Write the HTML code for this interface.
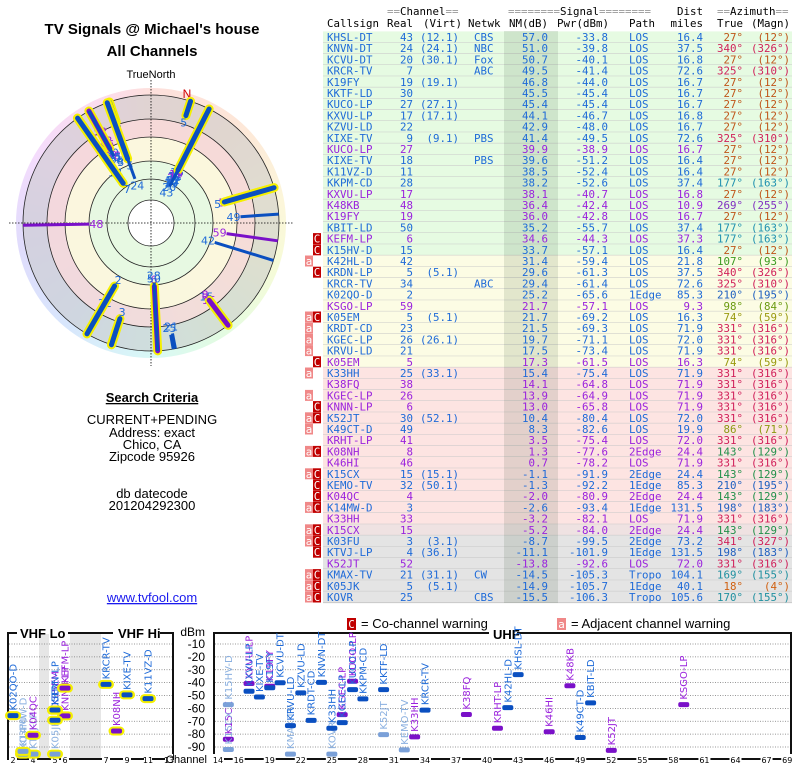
<!DOCTYPE html>
<html><head><meta charset="utf-8"><style>
html,body{margin:0;padding:0;background:#fff;width:800px;height:768px;overflow:hidden}
svg{display:block}
.mono{font-family:"DejaVu Sans Mono","Liberation Mono",monospace;font-size:10.8px}
.sans{font-family:"Liberation Sans",Arial,sans-serif}
.dv{font-family:"DejaVu Sans","Liberation Sans",sans-serif}
</style></head><body>
<div style="position:absolute;left:16px;top:88px;width:270px;height:270px;border-radius:50%;background:conic-gradient(#fde0dc 0deg,#fde6d8 40deg,#fcf6da 80deg,#f6fbd8 110deg,#e2fbe2 150deg,#d8f8f6 180deg,#d8e6fc 220deg,#e0dcfc 260deg,#f4dcfc 300deg,#fcdcec 340deg,#fde0dc 360deg)"></div>
<svg id="root" width="800" height="768" style="position:absolute;left:0;top:0">
<text x="152" y="34" text-anchor="middle" class="sans" font-size="15" font-weight="bold">TV Signals @ Michael's house</text>
<text x="152" y="56" text-anchor="middle" class="sans" font-size="15" font-weight="bold">All Channels</text>
<text x="151" y="78" text-anchor="middle" class="sans" font-size="11">TrueNorth</text>
<g id="polar"></g>
<text x="152" y="402" text-anchor="middle" class="sans" font-size="13" font-weight="bold" text-decoration="underline">Search Criteria</text>
<g class="sans" font-size="13" text-anchor="middle">
<text x="152" y="424">CURRENT+PENDING</text>
<text x="152" y="437">Address: exact</text>
<text x="152" y="449">Chico, CA</text>
<text x="152" y="461">Zipcode 95926</text>
<text x="152" y="498">db datecode</text>
<text x="152" y="510">201204292300</text>
</g>
<text x="152" y="602" text-anchor="middle" class="sans" font-size="13" fill="#1a1aee" text-decoration="underline">www.tvfool.com</text>
<g id="table"></g>
<g id="bottom"></g>
</svg>
<script>
const calls=["KHSL-DT","KNVN-DT","KCVU-DT","KRCR-TV","K19FY","KKTF-LD","KUCO-LP","KXVU-LP","KZVU-LD","KIXE-TV","KUCO-LP","KIXE-TV","K11VZ-D","KKPM-CD","KXVU-LP","K48KB","K19FY","KBIT-LD","KEFM-LP","K15HV-D","K42HL-D","KRDN-LP","KRCR-TV","K02QO-D","KSGO-LP","K05EM","KRDT-CD","KGEC-LP","KRVU-LD","K05EM","K33HH","K38FQ","KGEC-LP","KNNN-LP","K52JT","K49CT-D","KRHT-LP","K08NH","K46HI","K15CX","KEMO-TV","K04QC","K14MW-D","K33HH","K15CX","K03FU","KTVJ-LP","K52JT","KMAX-TV","K05JK","KOVR"];
const realCh=[43,24,20,7,19,30,27,17,22,9,27,18,11,28,17,48,19,50,6,15,42,5,34,2,59,5,23,26,21,5,25,38,26,6,30,49,41,8,46,15,32,4,3,33,15,3,4,52,21,5,25];
const virt=["(12.1)","(24.1)","(30.1)","","(19.1)","","(27.1)","(17.1)","","(9.1)","","","","","","","","","","","","(5.1)","","","","(5.1)","","(26.1)","","","(33.1)","","","","(52.1)","","","","","(15.1)","(50.1)","","","","","(3.1)","(36.1)","","(31.1)","(5.1)",""];
const netwk=["CBS","NBC","Fox","ABC","","","","","","PBS","","PBS","","","","","","","","","","","ABC","","","","","","","","","","","","","","","","","","","","","","","","","","CW","","CBS"];
const nm=[57.0,51.0,50.7,49.5,46.8,45.5,45.4,44.1,42.9,41.4,39.9,39.6,38.5,38.2,38.1,36.4,36.0,35.2,34.6,33.7,31.4,29.6,29.4,25.2,21.7,21.7,21.5,19.7,17.5,17.3,15.4,14.1,13.9,13.0,10.4,8.3,3.5,1.3,0.7,-1.1,-1.3,-2.0,-2.6,-3.2,-5.2,-8.7,-11.1,-13.8,-14.5,-14.9,-15.5];
const pwr=[-33.8,-39.8,-40.1,-41.4,-44.0,-45.4,-45.4,-46.7,-48.0,-49.5,-38.9,-51.2,-52.4,-52.6,-40.7,-42.4,-42.8,-55.7,-44.3,-57.1,-59.4,-61.3,-61.4,-65.6,-57.1,-69.2,-69.3,-71.1,-73.4,-61.5,-75.4,-64.8,-64.9,-65.8,-80.4,-82.6,-75.4,-77.6,-78.2,-91.9,-92.2,-80.9,-93.4,-82.1,-84.0,-99.5,-101.9,-92.6,-105.3,-105.7,-106.3];
const path=["LOS","LOS","LOS","LOS","LOS","LOS","LOS","LOS","LOS","LOS","LOS","LOS","LOS","LOS","LOS","LOS","LOS","LOS","LOS","LOS","LOS","LOS","LOS","1Edge","LOS","LOS","LOS","LOS","LOS","LOS","LOS","LOS","LOS","LOS","LOS","LOS","LOS","2Edge","LOS","2Edge","1Edge","2Edge","1Edge","LOS","2Edge","2Edge","1Edge","LOS","Tropo","1Edge","Tropo"];
const dist=["16.4","37.5","16.8","72.6","16.7","16.7","16.7","16.8","16.7","72.6","16.7","16.4","16.4","37.4","16.8","10.9","16.7","37.4","37.3","16.4","21.8","37.5","72.6","85.3","9.3","16.3","71.9","72.0","71.9","16.3","71.9","71.9","71.9","71.9","72.0","19.9","72.0","24.4","71.9","24.4","85.3","24.4","131.5","71.9","24.4","73.2","131.5","72.0","104.1","40.1","105.6"];
const azTrue=[27,340,27,325,27,27,27,27,27,325,27,27,27,177,27,269,27,177,177,27,107,340,325,210,98,74,331,331,331,74,331,331,331,331,331,86,331,143,331,143,210,143,198,331,143,341,198,331,169,18,170];
const azMagn=[12,326,12,310,12,12,12,12,12,310,12,12,12,163,12,255,12,163,163,12,93,326,310,195,84,59,316,316,316,59,316,316,316,316,316,71,316,129,316,129,195,129,183,316,129,327,183,316,155,4,155];
const kind=["b","b","b","b","b","b","b","b","b","b","p","b","b","b","p","p","p","b","p","b","b","b","b","b","p","b","b","b","b","p","b","p","p","p","b","b","p","p","p","b","b","p","b","p","p","b","b","p","b","b","b"];
const warn=["","","","","","","","","","","","","","","","","","","C","C","a","C","","","","aC","a","a","a","C","a","","a","C","aC","a","","aC","","aC","C","C","aC","","aC","aC","C","","aC","aC","aC"];
const dbmTicks=[-10,-20,-30,-40,-50,-60,-70,-80,-90];
const vhfTicks=[2,4,5,6,7,9,11,13];
const uhfTicks=[14,16,19,22,25,28,31,34,37,40,43,46,49,52,55,58,61,64,67,69];

const NS="http://www.w3.org/2000/svg";
function el(tag,attrs,parent,txt){const e=document.createElementNS(NS,tag);for(const k in attrs)e.setAttribute(k,attrs[k]);if(txt!==undefined)e.textContent=txt;parent.appendChild(e);return e;}
const BLUE="#1e6ad8",PURP="#9a22dd",DKB="#0a4fc0",DKP="#7a10c8";
function azColor(a){
 if(a<=30) return a<20?"#d06010":"#c0561a";
 if(a<80) return "#9a9a10";
 if(a<95) return "#8a9a10";
 if(a<100) return "#6a9a10";
 if(a<120) return "#3a9a20";
 if(a<150) return "#20904a";
 if(a<175) return "#2090a0";
 if(a<190) return "#2090b0";
 if(a<220) return "#2060c0";
 if(a<300) return "#8030c0";
 return "#d0205a";
}
// ---------- table ----------
const T=document.getElementById('table');
const rowY=i=>37+i*11.2;
function rowBg(i){ if(i<20) return "#e6fbe2"; if(i<30) return "#fcfce4"; if(i<44) return "#fde4e2"; if(i<45) return "#efe2e2"; return "#e4e4e4";}
for(let i=0;i<calls.length;i++){
 const y=rowY(i);
 const r=el('rect',{x:323,y:y-5.6,width:469,height:11.2,fill:rowBg(i)},T);
 
 
 el('line',{x1:323,x2:792,y1:y+5.6,y2:y+5.6,stroke:"#c8c8c8","stroke-width":1},T);
}
const sh=el('rect',{x:504,y:31,width:54,height:572,fill:"rgba(0,40,0,0.10)"},T);


const hdr=el('g',{class:"mono",fill:"#000"},T);


function ht(x,y,s,anchor,fill){el('text',{x:x,y:y,"text-anchor":anchor||"start",fill:fill||"#000"},hdr,s);}
function eqs(x,y,parts){const t=el('text',{x:x,y:y},hdr);parts.forEach(p=>{el('tspan',{fill:p[1]?"#999":"#000"},t,p[0]);});}
eqs(387,15,[["==",1],["Channel",0],["==",1]]);
eqs(508,15,[["========",1],["Signal",0],["========",1]]);
ht(703,15,"Dist","end");
eqs(717,15,[["==",1],["Azimuth",0],["==",1]]);
ht(327,27,"Callsign");ht(413,27,"Real","end");ht(423,27,"(Virt)");ht(468,27,"Netwk");ht(548,27,"NM(dB)","end");ht(609,27,"Pwr(dBm)","end");ht(629,27,"Path");ht(703,27,"miles","end");ht(743,27,"True","end");ht(790,27,"(Magn)","end");
for(let i=0;i<calls.length;i++){
 const y=rowY(i)+4;
 const g=el('g',{class:"mono",fill:kind[i]=="p"?PURP:BLUE},T);
 
 
 el('text',{x:327,y:y},g,calls[i]);
 el('text',{x:413,y:y,"text-anchor":"end"},g,String(realCh[i]));
 if(virt[i]) el('text',{x:459,y:y,"text-anchor":"end"},g,virt[i]);
 if(netwk[i]) el('text',{x:474,y:y},g,netwk[i]);
 el('text',{x:548,y:y,"text-anchor":"end"},g,nm[i].toFixed(1));
 el('text',{x:608,y:y,"text-anchor":"end"},g,pwr[i].toFixed(1));
 el('text',{x:629,y:y},g,path[i]);
 el('text',{x:703,y:y,"text-anchor":"end"},g,dist[i]);
 el('text',{x:743,y:y,"text-anchor":"end",fill:azColor(azTrue[i])},g,azTrue[i]+"°");
 el('text',{x:790,y:y,"text-anchor":"end",fill:azColor(azTrue[i])},g,"("+azMagn[i]+"°)");
 const w=warn[i];
 if(w.indexOf('C')>=0){
  const b=el('g',{},T);
  
  
  el('rect',{x:313,y:rowY(i)-5.5,width:8,height:11,fill:"#c00000"},b);
  el('text',{x:317,y:y,"text-anchor":"middle",class:"mono",fill:"#fff"},b,"C");
 }
 if(w.indexOf('a')>=0){
  const b=el('g',{},T);
  
  
  el('rect',{x:305,y:rowY(i)-5.5,width:8,height:11,fill:"#f08888"},b);
  el('text',{x:309,y:y,"text-anchor":"middle",class:"mono",fill:"#fff"},b,"a");
 }
}
// ---------- polar ----------
const P=document.getElementById('polar');
const cx=151,cy=223;
el('circle',{cx:cx,cy:cy,r:128,fill:"rgba(200,200,200,0.55)"},P);
el('circle',{cx:cx,cy:cy,r:104,fill:"rgba(255,220,220,0.7)"},P);
el('circle',{cx:cx,cy:cy,r:86,fill:"rgba(252,252,222,0.85)"},P);
el('circle',{cx:cx,cy:cy,r:62,fill:"rgba(228,248,226,0.9)"},P);
el('circle',{cx:cx,cy:cy,r:23,fill:"#fff"},P);
[128,104,86,62,44,23].forEach(r=>{el('circle',{cx:cx,cy:cy,r:r,fill:"none",stroke:"#222","stroke-width":0.8},P);});
el('line',{x1:cx,x2:cx,y1:80,y2:366,stroke:"#000","stroke-dasharray":"1.5,1.5","stroke-width":0.8},P);
el('line',{x1:9,x2:293,y1:cy,y2:cy,stroke:"#000","stroke-dasharray":"1.5,1.5","stroke-width":0.8},P);
el('text',{x:187,y:98,"text-anchor":"middle",class:"sans","font-size":12,fill:"#d00000"},P,"N");
const rOf=v=>Math.min(126,98-v);
function pol(az,r){const a=az*Math.PI/180;return [cx+r*Math.sin(a),cy-r*Math.cos(a)];}
const order=[...calls.keys()].sort((a,b)=>nm[a]-nm[b]);
order.forEach(i=>{
 const r1=rOf(nm[i]),r2=128;
 const p1=pol(azTrue[i],r1),p2=pol(azTrue[i],Math.max(r2,r1+3));
 const vhf=realCh[i]<=13;
 const g=el('g',{},P);
 
 
 if(vhf) el('line',{x1:p1[0],y1:p1[1],x2:p2[0],y2:p2[1],stroke:"#f5f000","stroke-width":9,"stroke-linecap":"round"},g);
 el('line',{x1:p1[0],y1:p1[1],x2:p2[0],y2:p2[1],stroke:kind[i]=="p"?DKP:DKB,"stroke-width":vhf?5:3,"stroke-linecap":vhf?"round":"butt"},g);
 const lp=pol(azTrue[i],r1-7);
 el('text',{x:lp[0],y:lp[1]+4,"text-anchor":"middle",class:"dv","font-size":11,fill:kind[i]=="p"?PURP:BLUE},g,String(realCh[i]));
});
// ---------- bottom spectrum chart ----------
const B=document.getElementById('bottom');
const yD=d=>644+(-10-d)*1.2875;
const vx=c=>c<=4?13+(c-2)*10:(c<=6?55+(c-5)*10:106+(c-7)*10.5);
const ux=c=>218+(c-14)*10.35;
el('rect',{x:39,y:634,width:10,height:124,fill:"#e6e6e6"},B);
el('rect',{x:70,y:634,width:31,height:124,fill:"#e6e6e6"},B);
dbmTicks.forEach(d=>{
 el('line',{x1:9,x2:172,y1:yD(d),y2:yD(d),stroke:"#777","stroke-dasharray":"1,1.5","stroke-width":0.8},B);
 el('line',{x1:215,x2:790,y1:yD(d),y2:yD(d),stroke:"#777","stroke-dasharray":"1,1.5","stroke-width":0.8},B);
 const t=el('text',{x:205,y:yD(d)+4,"text-anchor":"end",class:"sans","font-size":12},B,String(d));
 
 
});
el('text',{x:205,y:636,"text-anchor":"end",class:"sans","font-size":12},B,"dBm");
el('path',{d:"M8,760 L8,633 L17,633 M68,633 L113,633 M160,633 L173,633 L173,760",stroke:"#111","stroke-width":2,fill:"none"},B);
el('path',{d:"M214,760 L214,633 L489,633 M517,633 L791,633 L791,760",stroke:"#111","stroke-width":2,fill:"none"},B);
el('text',{x:20,y:638,class:"sans","font-size":13,"font-weight":"bold"},B,"VHF Lo");
el('text',{x:118,y:638,class:"sans","font-size":13,"font-weight":"bold"},B,"VHF Hi");
el('text',{x:493,y:639,class:"sans","font-size":13,"font-weight":"bold"},B,"UHF");
const lg=el('g',{},B);


el('rect',{x:347,y:618,width:9,height:12,fill:"#c00000"},lg);
el('text',{x:351.5,y:628,"text-anchor":"middle",class:"mono",fill:"#fff"},lg,"C");
el('text',{x:361,y:628,class:"sans","font-size":13},lg,"= Co-channel warning");
el('rect',{x:557,y:618,width:9,height:12,fill:"#f08888"},lg);
el('text',{x:561.5,y:628,"text-anchor":"middle",class:"mono",fill:"#fff"},lg,"a");
el('text',{x:571,y:628,class:"sans","font-size":13},lg,"= Adjacent channel warning");
el('line',{x1:8,x2:173,y1:759,y2:759,stroke:"#111","stroke-width":2},B);
el('line',{x1:214,x2:791,y1:759,y2:759,stroke:"#111","stroke-width":2},B);
vhfTicks.forEach(c=>{const x=vx(c);el('rect',{x:x-4,y:754,width:8,height:10,fill:"#fff"},B);
 const t=el('text',{x:x,y:763,"text-anchor":"middle",class:"dv","font-size":8},B,String(c));
 
 });
uhfTicks.forEach(c=>{const x=ux(c);el('rect',{x:x-6,y:754,width:12,height:10,fill:"#fff"},B);
 const t=el('text',{x:x,y:763,"text-anchor":"middle",class:"dv","font-size":8},B,String(c));
 
 });
el('rect',{x:176,y:754,width:32,height:12,fill:"#fff"},B);
el('text',{x:207,y:763,"text-anchor":"end",class:"sans","font-size":11},B,"Channel");
for(let i=calls.length-1;i>=0;i--){
 const c=realCh[i];
 const x=c<=13?vx(c):ux(c);
 const y=yD(Math.max(-95.5,pwr[i]));
 const faded=(kind[i]=="b"&&nm[i]<0)||i==19||i==34;
 const col=kind[i]=="p"?(faded?"#c8a0e8":PURP):(faded?"#8ab0e0":BLUE);
 const mcol=kind[i]=="p"?(faded?"#b080e0":DKP):(faded?"#7aa0d8":DKB);
 const g=el('g',{},B);
 
 
 if(c<=13) el('rect',{x:x-8,y:y-4.5,width:16,height:9,rx:4.5,fill:"#f5f000"},g);
 el('rect',{x:x-5.5,y:y-2.5,width:11,height:5,rx:2,fill:mcol},g);
 el('text',{x:x+3.5,y:y-5,transform:`rotate(-90 ${x+3.5} ${y-5})`,class:"dv","font-size":10,fill:col},g,calls[i]);
}
</script>
</body></html>
